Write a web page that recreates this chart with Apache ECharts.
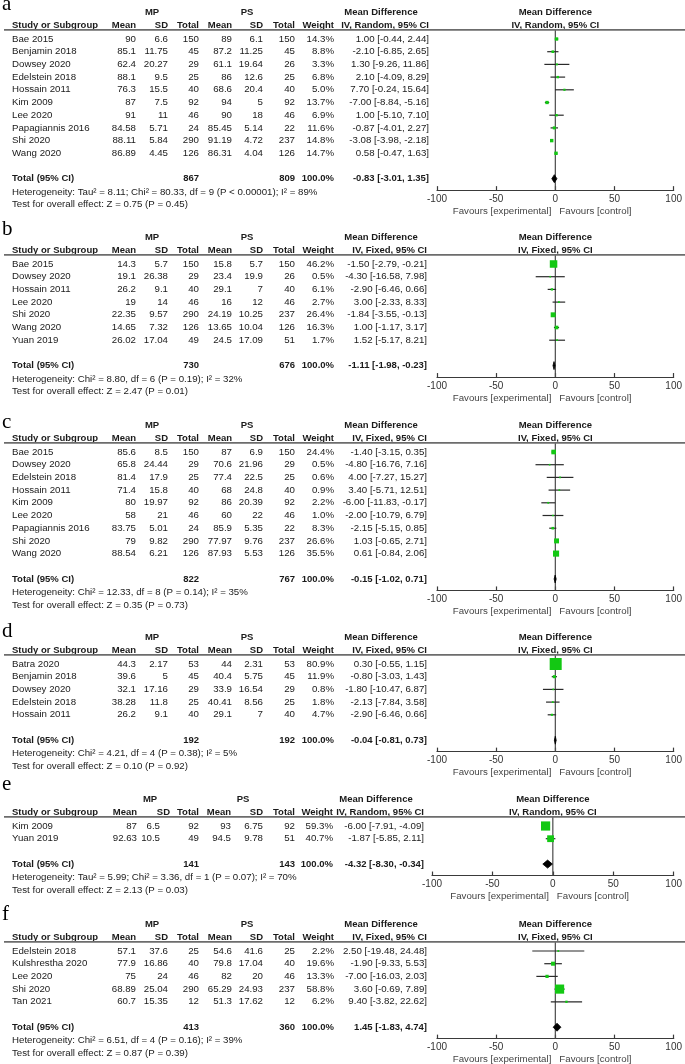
<!DOCTYPE html>
<html><head><meta charset="utf-8">
<script src="https://cdn.jsdelivr.net/npm/echarts/dist/echarts.min.js"></script>
<style>html,body{margin:0;padding:0;background:#fff}#c{width:685px;height:1064px}</style>
</head><body><div id="c"></div>
<script>
// ---------- Panel a ----------
const aStudies = ["Bae 2015","Benjamin 2018","Dowsey 2020","Edelstein 2018","Hossain 2011","Kim 2009","Lee 2020","Papagiannis 2016","Shi 2020","Wang 2020"];
const aMPMean = [90,85.1,62.4,88.1,76.3,87,91,84.58,88.11,86.89];
const aMPSD = [6.6,11.75,20.27,9.5,15.5,7.5,11,5.71,5.84,4.45];
const aMPN = [150,45,29,25,40,92,46,24,290,126];
const aPSMean = [89,87.2,61.1,86,68.6,94,90,85.45,91.19,86.31];
const aPSSD = [6.1,11.25,19.64,12.6,20.4,5,18,5.14,4.72,4.04];
const aPSN = [150,45,26,25,40,92,46,22,237,126];
const aWeight = [14.3,8.8,3.3,6.8,5.0,13.7,6.9,11.6,14.8,14.7];
const aMD = [1.00,-2.10,1.30,2.10,7.70,-7.00,1.00,-0.87,-3.08,0.58];
const aLo = [-0.44,-6.85,-9.26,-4.09,-0.24,-8.84,-5.10,-4.01,-3.98,-0.47];
const aHi = [2.44,2.65,11.86,8.29,15.64,-5.16,7.10,2.27,-2.18,1.63];
const aTotalN = [867,809];
const aPooled = [-0.83,-3.01,1.35];
const aHet = "Heterogeneity: Tau² = 8.11; Chi² = 80.33, df = 9 (P < 0.00001); I² = 89%";
const aTest = "Test for overall effect: Z = 0.75 (P = 0.45)";
const aMethod = "IV, Random, 95% CI";

// ---------- Panel b ----------
const bStudies = ["Bae 2015","Dowsey 2020","Hossain 2011","Lee 2020","Shi 2020","Wang 2020","Yuan 2019"];
const bMPMean = [14.3,19.1,26.2,19,22.35,14.65,26.02];
const bMPSD = [5.7,26.38,9.1,14,9.57,7.32,17.04];
const bMPN = [150,29,40,46,290,126,49];
const bPSMean = [15.8,23.4,29.1,16,24.19,13.65,24.5];
const bPSSD = [5.7,19.9,7,12,10.25,10.04,17.09];
const bPSN = [150,26,40,46,237,126,51];
const bWeight = [46.2,0.5,6.1,2.7,26.4,16.3,1.7];
const bMD = [-1.50,-4.30,-2.90,3.00,-1.84,1.00,1.52];
const bLo = [-2.79,-16.58,-6.46,-2.33,-3.55,-1.17,-5.17];
const bHi = [-0.21,7.98,0.66,8.33,-0.13,3.17,8.21];
const bTotalN = [730,676];
const bPooled = [-1.11,-1.98,-0.23];
const bHet = "Heterogeneity: Chi² = 8.80, df = 6 (P = 0.19); I² = 32%";
const bTest = "Test for overall effect: Z = 2.47 (P = 0.01)";
const bMethod = "IV, Fixed, 95% CI";

// ---------- Panel c ----------
const cStudies = ["Bae 2015","Dowsey 2020","Edelstein 2018","Hossain 2011","Kim 2009","Lee 2020","Papagiannis 2016","Shi 2020","Wang 2020"];
const cMPMean = [85.6,65.8,81.4,71.4,80,58,83.75,79,88.54];
const cMPSD = [8.5,24.44,17.9,15.8,19.97,21,5.01,9.82,6.21];
const cMPN = [150,29,25,40,92,46,24,290,126];
const cPSMean = [87,70.6,77.4,68,86,60,85.9,77.97,87.93];
const cPSSD = [6.9,21.96,22.5,24.8,20.39,22,5.35,9.76,5.53];
const cPSN = [150,29,25,40,92,46,22,237,126];
const cWeight = [24.4,0.5,0.6,0.9,2.2,1.0,8.3,26.6,35.5];
const cMD = [-1.40,-4.80,4.00,3.40,-6.00,-2.00,-2.15,1.03,0.61];
const cLo = [-3.15,-16.76,-7.27,-5.71,-11.83,-10.79,-5.15,-0.65,-0.84];
const cHi = [0.35,7.16,15.27,12.51,-0.17,6.79,0.85,2.71,2.06];
const cTotalN = [822,767];
const cPooled = [-0.15,-1.02,0.71];
const cHet = "Heterogeneity: Chi² = 12.33, df = 8 (P = 0.14); I² = 35%";
const cTest = "Test for overall effect: Z = 0.35 (P = 0.73)";
const cMethod = "IV, Fixed, 95% CI";

// ---------- Panel d ----------
const dStudies = ["Batra 2020","Benjamin 2018","Dowsey 2020","Edelstein 2018","Hossain 2011"];
const dMPMean = [44.3,39.6,32.1,38.28,26.2];
const dMPSD = [2.17,5,17.16,11.8,9.1];
const dMPN = [53,45,29,25,40];
const dPSMean = [44,40.4,33.9,40.41,29.1];
const dPSSD = [2.31,5.75,16.54,8.56,7];
const dPSN = [53,45,29,25,40];
const dWeight = [80.9,11.9,0.8,1.8,4.7];
const dMD = [0.30,-0.80,-1.80,-2.13,-2.90];
const dLo = [-0.55,-3.03,-10.47,-7.84,-6.46];
const dHi = [1.15,1.43,6.87,3.58,0.66];
const dTotalN = [192,192];
const dPooled = [-0.04,-0.81,0.73];
const dHet = "Heterogeneity: Chi² = 4.21, df = 4 (P = 0.38); I² = 5%";
const dTest = "Test for overall effect: Z = 0.10 (P = 0.92)";
const dMethod = "IV, Fixed, 95% CI";

// ---------- Panel e ----------
const eStudies = ["Kim 2009","Yuan 2019"];
const eMPMean = [87,92.63];
const eMPSD = [6.5,10.5];
const eMPN = [92,49];
const ePSMean = [93,94.5];
const ePSSD = [6.75,9.78];
const ePSN = [92,51];
const eWeight = [59.3,40.7];
const eMD = [-6.00,-1.87];
const eLo = [-7.91,-5.85];
const eHi = [-4.09,2.11];
const eTotalN = [141,143];
const ePooled = [-4.32,-8.30,-0.34];
const eHet = "Heterogeneity: Tau² = 5.99; Chi² = 3.36, df = 1 (P = 0.07); I² = 70%";
const eTest = "Test for overall effect: Z = 2.13 (P = 0.03)";
const eMethod = "IV, Random, 95% CI";

// ---------- Panel f ----------
const fStudies = ["Edelstein 2018","Kulshrestha 2020","Lee 2020","Shi 2020","Tan 2021"];
const fMPMean = [57.1,77.9,75,68.89,60.7];
const fMPSD = [37.6,16.86,24,25.04,15.35];
const fMPN = [25,40,46,290,12];
const fPSMean = [54.6,79.8,82,65.29,51.3];
const fPSSD = [41.6,17.04,20,24.93,17.62];
const fPSN = [25,40,46,237,12];
const fWeight = [2.2,19.6,13.3,58.8,6.2];
const fMD = [2.50,-1.90,-7.00,3.60,9.40];
const fLo = [-19.48,-9.33,-16.03,-0.69,-3.82];
const fHi = [24.48,5.53,2.03,7.89,22.62];
const fTotalN = [413,360];
const fPooled = [1.45,-1.83,4.74];
const fHet = "Heterogeneity: Chi² = 6.51, df = 4 (P = 0.16); I² = 39%";
const fTest = "Test for overall effect: Z = 0.87 (P = 0.39)";
const fMethod = "IV, Fixed, 95% CI";

const axisTicks = [-100, 100, 50]; // min, max, interval
const favLeft = "Favours [experimental]";
const favRight = "Favours [control]";

// ---------- assemble ----------
const panels = [
  {id:'a', studies:aStudies, mpMean:aMPMean, mpSD:aMPSD, mpN:aMPN, psMean:aPSMean, psSD:aPSSD, psN:aPSN, w:aWeight, md:aMD, lo:aLo, hi:aHi, totalN:aTotalN, pooled:aPooled, het:aHet, test:aTest, method:aMethod},
  {id:'b', studies:bStudies, mpMean:bMPMean, mpSD:bMPSD, mpN:bMPN, psMean:bPSMean, psSD:bPSSD, psN:bPSN, w:bWeight, md:bMD, lo:bLo, hi:bHi, totalN:bTotalN, pooled:bPooled, het:bHet, test:bTest, method:bMethod},
  {id:'c', studies:cStudies, mpMean:cMPMean, mpSD:cMPSD, mpN:cMPN, psMean:cPSMean, psSD:cPSSD, psN:cPSN, w:cWeight, md:cMD, lo:cLo, hi:cHi, totalN:cTotalN, pooled:cPooled, het:cHet, test:cTest, method:cMethod},
  {id:'d', studies:dStudies, mpMean:dMPMean, mpSD:dMPSD, mpN:dMPN, psMean:dPSMean, psSD:dPSSD, psN:dPSN, w:dWeight, md:dMD, lo:dLo, hi:dHi, totalN:dTotalN, pooled:dPooled, het:dHet, test:dTest, method:dMethod},
  {id:'e', studies:eStudies, mpMean:eMPMean, mpSD:eMPSD, mpN:eMPN, psMean:ePSMean, psSD:ePSSD, psN:ePSN, w:eWeight, md:eMD, lo:eLo, hi:eHi, totalN:eTotalN, pooled:ePooled, het:eHet, test:eTest, method:eMethod},
  {id:'f', studies:fStudies, mpMean:fMPMean, mpSD:fMPSD, mpN:fMPN, psMean:fPSMean, psSD:fPSSD, psN:fPSN, w:fWeight, md:fMD, lo:fLo, hi:fHi, totalN:fTotalN, pooled:fPooled, het:fHet, test:fTest, method:fMethod}
];

// ---------- layout (pixels) ----------
const RH = 12.7;
const FF = '"Liberation Sans", Arial, sans-serif';
const REG = '9.7px ' + FF;
const BOLD = 'bold 9.5px ' + FF;
const LABF = '21px "Liberation Serif", "Times New Roman", serif';
const TXT = '#1a1a1a';
const GREEN = '#13c813';
const COLS = {mpMean:136, mpSD:168, mpSDh:168, mpN:199, psMean:232, psSD:263, psN:295, w:334, mpC:152, psC:247, mdC:381};
const COLSE = {mpMean:137, mpSD:160, mpSDh:170, mpN:199, psMean:231, psSD:263, psN:295, w:333, mpC:150, psC:243, mdC:376};
const LAY = {
  a:{y0:39,  labY:4,   xl:437, xr:676, mdR:429, cols:COLS},
  b:{y0:264, labY:229, xl:437, xr:676, mdR:427, cols:COLS},
  c:{y0:452, labY:422, xl:437, xr:676, mdR:427, cols:COLS},
  d:{y0:664, labY:631, xl:437, xr:676, mdR:427, cols:COLS},
  e:{y0:826, labY:784, xl:432, xr:676, mdR:424, cols:COLSE},
  f:{y0:951, labY:914, xl:437, xr:676, mdR:427, cols:COLS}
};
const TOP_ROW = -0.72, AXIS_OFF = 1.9;

function fmt2(v){ return v.toFixed(2); }
function ci(m,l,h){ return fmt2(m) + ' [' + fmt2(l) + ', ' + fmt2(h) + ']'; }

function buildItems(p, L) {
  const C = L.cols, N = p.studies.length, it = [];
  const t = (text, x, align, font, extra) => Object.assign({t:String(text), x, align, font}, extra || {});
  it.push({row:(L.labY - L.y0)/RH, texts:[t(p.id, 2, 'left', LABF, {fill:'#000'})]});
  it.push({row:-2.1, texts:[
    t('MP', C.mpC, 'center', BOLD), t('PS', C.psC, 'center', BOLD),
    t('Mean Difference', C.mdC, 'center', BOLD),
    t('Mean Difference', 0, 'center', BOLD, {zero:true})]});
  it.push({row:-1.08, texts:[
    t('Study or Subgroup', 12, 'left', BOLD),
    t('Mean', C.mpMean, 'right', BOLD), t('SD', C.mpSDh, 'right', BOLD), t('Total', C.mpN, 'right', BOLD),
    t('Mean', C.psMean, 'right', BOLD), t('SD', C.psSD, 'right', BOLD), t('Total', C.psN, 'right', BOLD),
    t('Weight', C.w, 'right', BOLD), t(p.method, L.mdR, 'right', BOLD),
    t(p.method, 0, 'center', BOLD, {zero:true})]});
  it.push({row:TOP_ROW, texts:[], line:true});
  for (let i = 0; i < N; i++) {
    it.push({row:i, texts:[
      t(p.studies[i], 12, 'left', REG),
      t(p.mpMean[i], C.mpMean, 'right', REG), t(p.mpSD[i], C.mpSD, 'right', REG), t(p.mpN[i], C.mpN, 'right', REG),
      t(p.psMean[i], C.psMean, 'right', REG), t(p.psSD[i], C.psSD, 'right', REG), t(p.psN[i], C.psN, 'right', REG),
      t(p.w[i].toFixed(1) + '%', C.w, 'right', REG),
      t(ci(p.md[i], p.lo[i], p.hi[i]), L.mdR, 'right', REG)]});
  }
  it.push({row:N+1, texts:[
    t('Total (95% CI)', 12, 'left', BOLD),
    t(p.totalN[0], C.mpN, 'right', BOLD), t(p.totalN[1], C.psN, 'right', BOLD),
    t('100.0%', C.w, 'right', BOLD),
    t(ci(p.pooled[0], p.pooled[1], p.pooled[2]), L.mdR, 'right', BOLD)]});
  it.push({row:N+2.05, texts:[t(p.het, 12, 'left', REG)]});
  it.push({row:N+3.05, texts:[t(p.test, 12, 'left', REG)]});
  it.push({row:N+AXIS_OFF+1.65, texts:[
    t(favLeft, -4, 'right', REG, {zero:true, fill:'#444'}),
    t(favRight, 4, 'left', REG, {zero:true, fill:'#444'})]});
  return it;
}

const grids = [], xAxes = [], yAxes = [], series = [];
panels.forEach((p, gi) => {
  const L = LAY[p.id], N = p.studies.length;
  const yMax = N + AXIS_OFF;
  grids.push({left:L.xl, width:L.xr - L.xl, top:L.y0 + TOP_ROW*RH, height:(yMax - TOP_ROW)*RH, containLabel:false});
  xAxes.push({type:'value', gridIndex:gi, min:axisTicks[0], max:axisTicks[1], interval:axisTicks[2],
    axisLine:{show:true, onZero:false, lineStyle:{color:'#3a3a3a', width:1.2}},
    axisTick:{show:true, inside:true, length:4, lineStyle:{color:'#3a3a3a', width:1.2}},
    axisLabel:{show:true, color:'#333', fontSize:10, fontFamily:FF, margin:4},
    splitLine:{show:false}});
  yAxes.push({type:'value', gridIndex:gi, inverse:true, min:TOP_ROW, max:yMax, show:false});

  // zero reference line
  series.push({type:'custom', xAxisIndex:gi, yAxisIndex:gi, silent:true, z:1, clip:false,
    data:[[0, TOP_ROW, yMax]],
    renderItem:(params, api) => {
      const a = api.coord([api.value(0), api.value(1)]), b = api.coord([api.value(0), api.value(2)]);
      return {type:'line', shape:{x1:a[0], y1:a[1], x2:b[0], y2:b[1]}, style:{stroke:'#4a4a4a', lineWidth:1.2}};
    }});
  // studies: CI line + weighted square
  series.push({type:'custom', xAxisIndex:gi, yAxisIndex:gi, silent:true, z:3, clip:false,
    data:p.studies.map((s, i) => [i, p.md[i], p.lo[i], p.hi[i], p.w[i]]),
    renderItem:(params, api) => {
      const row = api.value(0);
      const pl = api.coord([api.value(2), row]), ph = api.coord([api.value(3), row]), pm = api.coord([api.value(1), row]);
      const s = 1.5 + 0.13*api.value(4);
      return {type:'group', children:[
        {type:'line', shape:{x1:pl[0], y1:pl[1], x2:ph[0], y2:ph[1]}, style:{stroke:'#2a2a2a', lineWidth:1.2}},
        {type:'rect', shape:{x:pm[0]-s/2, y:pm[1]-s/2, width:s, height:s}, style:{fill:GREEN}}
      ]};
    }});
  // pooled diamond
  series.push({type:'custom', xAxisIndex:gi, yAxisIndex:gi, silent:true, z:3, clip:false,
    data:[[N+1, p.pooled[0], p.pooled[1], p.pooled[2]]],
    renderItem:(params, api) => {
      const row = api.value(0);
      const pl = api.coord([api.value(2), row]), ph = api.coord([api.value(3), row]), pm = api.coord([api.value(1), row]);
      const hh = 4;
      return {type:'polygon', shape:{points:[[pl[0], pl[1]], [pm[0], pm[1]-hh], [ph[0], ph[1]], [pm[0], pm[1]+hh]]}, style:{fill:'#000', stroke:'#000', lineWidth:0.8}};
    }});
  // table text
  const items = buildItems(p, L);
  series.push({type:'custom', xAxisIndex:gi, yAxisIndex:gi, silent:true, z:4, clip:false,
    data:items.map((x, k) => [0, x.row, k]),
    renderItem:(params, api) => {
      const item = items[params.dataIndex];
      const pt = api.coord([0, api.value(1)]);
      const ch = item.texts.map(c => ({type:'text', style:{
        text:c.t, x:c.zero ? pt[0] + c.x : c.x, y:pt[1], font:c.font, fill:c.fill || TXT,
        align:c.align, verticalAlign:'middle', textAlign:c.align, textVerticalAlign:'middle'}}));
      if (item.line) ch.push({type:'line', shape:{x1:4, y1:pt[1], x2:685, y2:pt[1]}, style:{stroke:'#6c6c6c', lineWidth:1.6}});
      return {type:'group', children:ch};
    }});
});

const chart = echarts.init(document.getElementById('c'), null, {renderer:'canvas'});
chart.setOption({animation:false, backgroundColor:'#fff', grid:grids, xAxis:xAxes, yAxis:yAxes, series:series});
</script>
</body></html>
